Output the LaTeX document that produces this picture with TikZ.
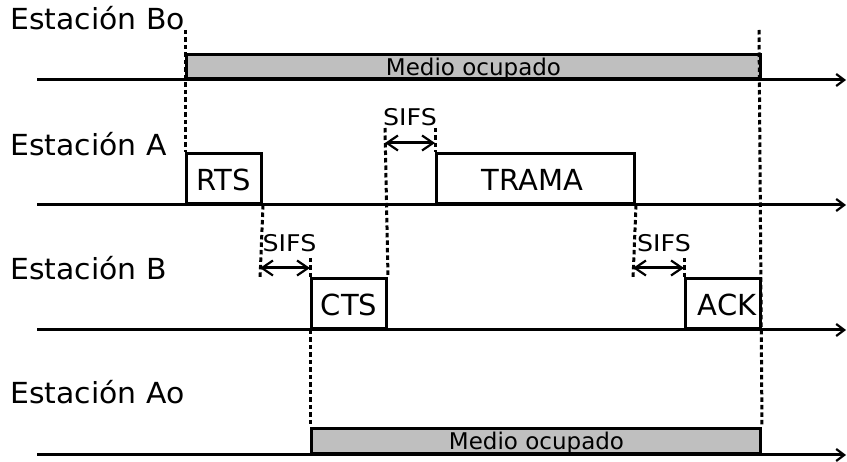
\documentclass[tikz,border=0pt]{standalone}
\usepackage{fontspec}
\setmainfont{DejaVu Sans}
\newfontfamily\lblfont{DejaVu Sans}[FakeStretch=1.03]
\newfontfamily\sifsfont{DejaVu Sans}[FakeStretch=1.1]
\usetikzlibrary{arrows.meta}
\definecolor{barfill}{RGB}{191,191,191}
\tikzset{
  axis/.style={line width=3pt,-{Straight Barb[length=8pt,width=12pt,line width=2.2pt]}},
  frame/.style={draw,line width=3pt,fill=white,inner sep=0pt,minimum height=50pt,
    text height=25pt,text depth=0pt,font=\fontsize{29}{34}\selectfont,anchor=south west},
  busy/.style={draw,line width=3pt,fill=barfill,inner sep=0pt,
    text height=17.4pt,text depth=0pt,font=\fontsize{23}{27}\selectfont,anchor=south west},
  station/.style={anchor=base west,inner sep=0pt,font=\lblfont\fontsize{29}{34}\selectfont},
  sifs/.style={anchor=base,inner sep=0pt,font=\sifsfont\fontsize{23}{27}\selectfont},
  guide/.style={line width=3pt,dash pattern=on 4.5pt off 3pt},
  gap/.style={line width=3pt,{Straight Barb[length=11pt,width=15pt,line width=2.2pt]}-{Straight Barb[length=11pt,width=15pt,line width=2.2pt]}}
}
\begin{document}
\begin{tikzpicture}[x=1pt,y=-1pt]
\useasboundingbox (0,0) rectangle (847,462);
% axis coordinates
\coordinate (a0s) at (37,80);  \coordinate (a0e) at (846,80);
\coordinate (a1s) at (37,205); \coordinate (a1e) at (846,205);
\coordinate (a2s) at (37,330); \coordinate (a2e) at (846,330);
\coordinate (a3s) at (37,455); \coordinate (a3e) at (846,455);
% station labels
\node[station] (lbo) at (10,29.5) {Estación Bo};
\node[station] (la) at (10,156) {Estación A};
\node[station] (lb) at (10,280) {Estación B};
\node[station] (lao) at (10,404) {Estación Ao};
% axes
\draw[axis] (a0s) -- (a0e);
\draw[axis] (a1s) -- (a1e);
\draw[axis] (a2s) -- (a2e);
\draw[axis] (a3s) -- (a3e);
% busy bars
\node[busy,minimum width=574pt,minimum height=24pt] (bobar) at (185,80) {Medio ocupado};
\node[busy,minimum width=449pt,minimum height=25pt] (aobar) at (310,455) {\hspace*{1pt}Medio ocupado};
% frames
\node[frame,minimum width=75pt] (rts) at (185,205) {RTS};
\node[frame,minimum width=198pt] (trama) at (435,205) {TRAMA\hspace*{6pt}};
\node[frame,minimum width=75pt] (cts) at (310,330) {CTS};
\node[frame,minimum width=75pt] (ack) at (684,330) {\hspace*{8pt}ACK};
% guide coordinates
\coordinate (t185) at (185,30);
\coordinate (t759) at (759,30);
\coordinate (e260) at (260,279);
\coordinate (t310) at (310,258);
\coordinate (t385) at (385,128);
\coordinate (t435) at (435,128);
\coordinate (e633) at (633,279);
\coordinate (t684) at (684,258);
% dashed guides
\draw[guide] (t185) -- (rts.north west);
\draw[guide] (t759) -- (aobar.north east);
\draw[guide] (rts.south east) -- (e260);
\draw[guide] (t310) -- (cts.north west);
\draw[guide] (cts.south west) -- (aobar.north west);
\draw[guide] (t385) -- (cts.north east);
\draw[guide] (t435) -- (trama.north west);
\draw[guide] (trama.south east) -- (e633);
\draw[guide] (t684) -- (ack.north west);
% SIFS arrows
\coordinate (g1a) at (260,268); \coordinate (g1b) at (310,268);
\coordinate (g2a) at (385,143); \coordinate (g2b) at (435,143);
\coordinate (g3a) at (633,268); \coordinate (g3b) at (684,268);
\draw[gap] (g1a) -- (g1b);
\draw[gap] (g2a) -- (g2b);
\draw[gap] (g3a) -- (g3b);
\node[sifs] (s1) at (289.5,251.5) {SIFS};
\node[sifs] (s2) at (410,125.5) {SIFS};
\node[sifs] (s3) at (664,251.5) {SIFS};
\end{tikzpicture}
\end{document}
